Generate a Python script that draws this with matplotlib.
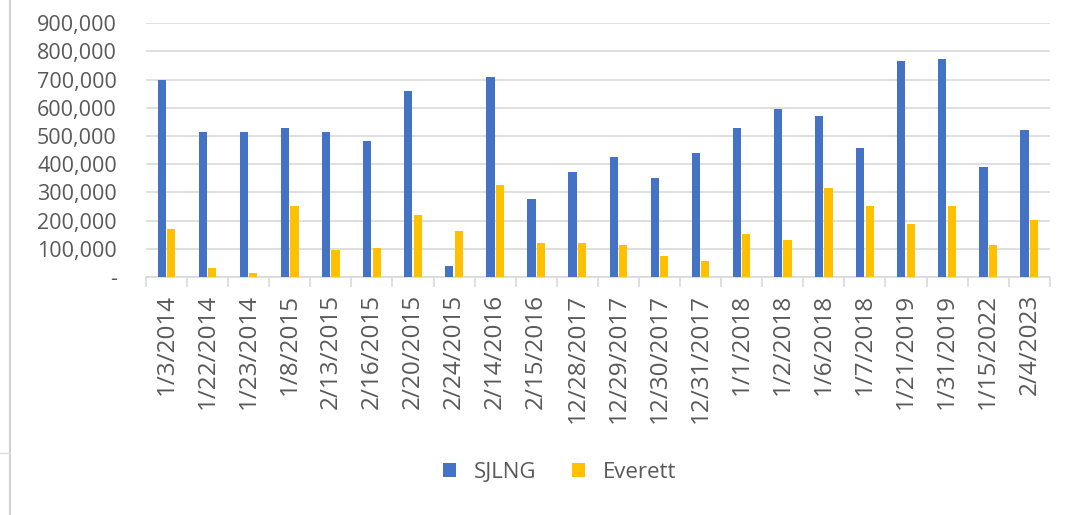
import numpy as np
import matplotlib
matplotlib.use("Agg")
from matplotlib import pyplot as plt
from matplotlib.ticker import FuncFormatter

# data
dates = ['1/3/2014', '1/22/2014', '1/23/2014', '1/8/2015', '2/13/2015', '2/16/2015',
         '2/20/2015', '2/24/2015', '2/14/2016', '2/15/2016', '12/28/2017', '12/29/2017',
         '12/30/2017', '12/31/2017', '1/1/2018', '1/2/2018', '1/6/2018', '1/7/2018',
         '1/21/2019', '1/31/2019', '1/15/2022', '2/4/2023']
sjlng = [700000, 513000, 513000, 530000, 513000, 481000, 661000, 40000, 708000, 276000,
         374000, 424000, 350000, 441000, 530000, 596000, 571000, 456000, 767000, 774000,
         391000, 521000]
everett = [170000, 33000, 15000, 252000, 97000, 104000, 220000, 163000, 325000, 122000,
           122000, 114000, 73000, 57000, 154000, 130000, 314000, 252000, 187000, 252000,
           114000, 204000]

plt.rcParams['font.family'] = ['Open Sans', 'DejaVu Sans']
txt = '#595959'
grid = '#d9d9d9'

fig = plt.figure(figsize=(10.89, 5.15), dpi=100)
ax = fig.add_axes([0.134, 0.462, 0.830, 0.493])

x = np.arange(len(dates))
w = 0.2
ax.bar(x - 0.115, sjlng, w, color='#4472C4', label='SJLNG', zorder=3)
ax.bar(x + 0.115, everett, w, color='#FFC000', label='Everett', zorder=3)

ax.set_xlim(-0.5, len(dates) - 0.5)
ax.set_ylim(0, 900000)
ax.set_yticks(np.arange(0, 900001, 100000))
ax.yaxis.set_major_formatter(FuncFormatter(lambda v, p: '-' if v == 0 else '{:,.0f}'.format(v)))
ax.grid(axis='y', color=grid, linewidth=1.2, zorder=0)

ax.set_xticks(x)
ax.set_xticklabels(dates, rotation=90, fontsize=17.5, color=txt)
ax.tick_params(axis='x', length=0, pad=12)
ax.set_xticks(np.arange(-0.5, len(dates)), minor=True)
ax.tick_params(axis='x', which='minor', length=7, color=grid, width=1.2)
ax.tick_params(axis='y', length=0, labelsize=15.5, labelcolor=txt, pad=21)

for s in ['top', 'right', 'left']:
    ax.spines[s].set_visible(False)
ax.spines['bottom'].set_color(grid)
ax.spines['bottom'].set_linewidth(1.2)

fig.legend(loc='center', bbox_to_anchor=(0.514, 0.083), ncol=2, frameon=False,
           fontsize=16, labelcolor=txt, handlelength=0.6, handleheight=0.6,
           handletextpad=0.8, columnspacing=1.6)

# faint chart frame at the left edge
fig.add_artist(plt.Line2D([0.009, 0.009], [0, 1], color='#d0d0d0', linewidth=1.5))
fig.add_artist(plt.Line2D([0, 0.009], [0.12, 0.12], color='#e0e0e0', linewidth=1))

fig.savefig('out.png', dpi=100)
